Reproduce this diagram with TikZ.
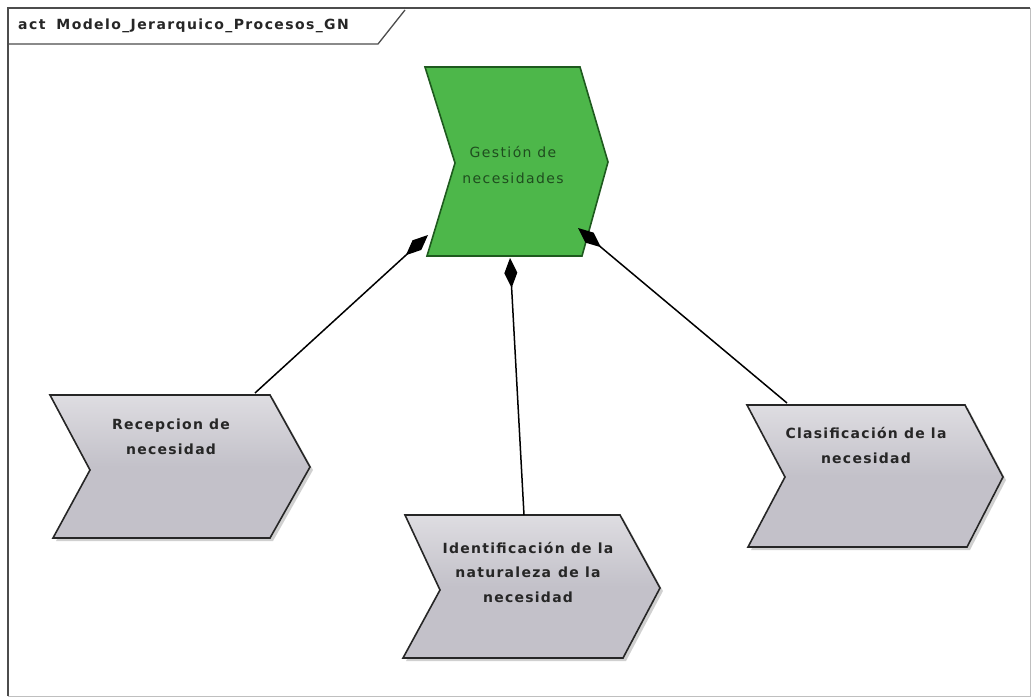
\documentclass[tikz,border=0pt]{standalone}
\usepackage{fontspec}
\setmainfont{DejaVu Sans}
\newfontfamily\boxbold[LetterSpace=9]{DejaVu Sans Bold}
\newfontfamily\titlebold[LetterSpace=10]{DejaVu Sans Bold}
\newfontfamily\boxreg[LetterSpace=10]{DejaVu Sans}
\usetikzlibrary{arrows.meta}
\definecolor{procgray}{HTML}{C3C1C9}
\definecolor{procgreen}{HTML}{4DB74A}
\definecolor{greenedge}{HTML}{1E5A1E}
\definecolor{greentext}{HTML}{1F4D1F}
\tikzset{
  graybox/.style={draw=black!85, line width=1.6pt, top color=procgray!55!white, bottom color=procgray, middle color=procgray, line join=miter},
  greenbox/.style={draw=greenedge, line width=1.6pt, fill=procgreen, line join=miter},
  shadowbox/.style={fill=black!30, draw=none, opacity=0.6},
  proclabel/.style={font=\fontsize{14}{25}\boxbold, align=center, text=black!85, inner sep=0pt},
  greenlabel/.style={font=\fontsize{14}{26}\boxreg, align=center, text=greentext, inner sep=0pt},
  compose/.style={draw=black, line width=1.5pt, -{Diamond[length=30pt,width=13pt,fill=black]}},
}
\begin{document}
\begin{tikzpicture}[x=1pt,y=-1pt]
\useasboundingbox (0,0) rectangle (1036,698);
\fill[white] (0,0) rectangle (1036,698);
% frame
\draw[black!25, line width=0.8pt] (1030,8) -- (1030,696) -- (8,696);
\draw[black!70, line width=1.6pt] (8,696) -- (8,8) -- (1030,8);
\draw[black!70, line width=1.3pt] (8,44) -- (378,44) -- (405,10);
\node[anchor=west, inner sep=0pt, font=\fontsize{14}{15}\titlebold, text=black!85] (title) at (18,26) {act\hspace{11pt}Modelo\_Jerarquico\_Procesos\_GN};

% shadows
\fill[shadowbox] (53,398) -- (273,398) -- (313,470) -- (273,541) -- (56,541) -- (93,473) -- cycle;
\fill[shadowbox] (408,518) -- (623,518) -- (663,591) -- (626,661) -- (406,661) -- (443,593) -- cycle;
\fill[shadowbox] (750,408) -- (968,408) -- (1006,480) -- (970,550) -- (751,550) -- (788,480) -- cycle;

% green process
\draw[greenbox] (425,67) -- (580,67) -- (608,162) -- (582,256) -- (427,256) -- (455,163) -- cycle;
\node[greenlabel] (gestion) at (513,165) {Gestión de\\necesidades};
% gray processes
\draw[graybox] (50,395) -- (270,395) -- (310,467) -- (270,538) -- (53,538) -- (90,470) -- cycle;
\node[proclabel] (recepcion) at (171,437) {Recepcion de\\necesidad};
\draw[graybox] (405,515) -- (620,515) -- (660,588) -- (623,658) -- (403,658) -- (440,590) -- cycle;
\node[proclabel, font=\fontsize{14}{24.5}\boxbold] (identificacion) at (528,572) {Identificación de la\\naturaleza\enspace de la\\necesidad};
\draw[graybox] (747,405) -- (965,405) -- (1003,477) -- (967,547) -- (748,547) -- (785,477) -- cycle;
\node[proclabel] (clasificacion) at (866,445) {Clasificación de la\\necesidad};

% connection points
\coordinate (recTop) at (255,393);
\coordinate (idTop) at (524,515);
\coordinate (claTop) at (787,403);
\coordinate (gesL) at (428,235);
\coordinate (gesB) at (510,258);
\coordinate (gesR) at (578,228);

\draw[compose] (recTop) -- (gesL);
\draw[compose] (idTop) -- (gesB);
\draw[compose] (claTop) -- (gesR);
\end{tikzpicture}
\end{document}
